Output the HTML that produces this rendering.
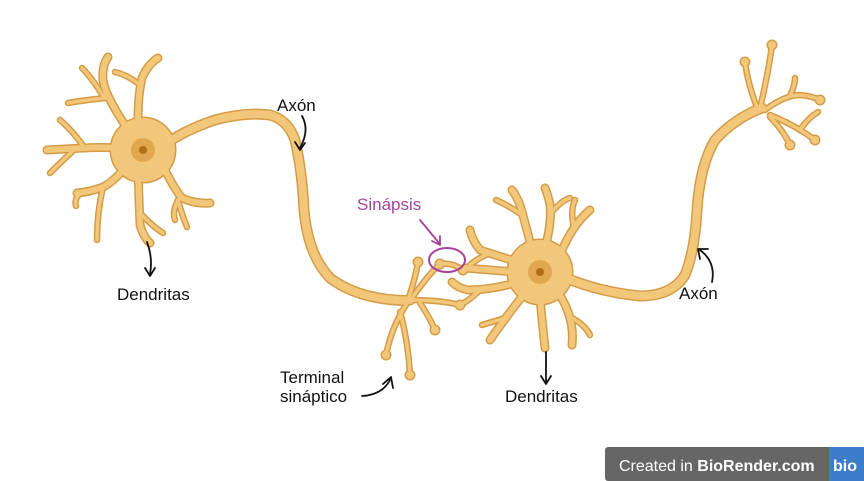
<!DOCTYPE html>
<html><head><meta charset="utf-8"><style>
html,body{margin:0;padding:0;background:#fff;width:864px;height:481px;overflow:hidden}
svg{position:absolute;left:0;top:0}
path,line{fill:none;stroke-linecap:round;stroke-linejoin:round}
path.a{stroke-width:calc(8px + var(--e))}
path.d{stroke-width:calc(6px + var(--e))}
path.b{stroke-width:calc(3.5px + var(--e))}
circle.k{r:4px;stroke-width:var(--e)}
circle.s{stroke-width:var(--e)}
.t{font-family:"Liberation Sans",sans-serif;font-size:17px;fill:#111}
</style></head><body>
<svg width="864" height="481" viewBox="0 0 864 481">
<defs>
<g id="n">
<path class="d" d="M125,125 Q105,95 103,80 Q102,65 108,57"/>
<path class="b" d="M106,98 Q85,100 68,103"/>
<path class="b" d="M103,96 Q92,78 82,68"/>
<path class="d" d="M138,120 Q138,95 142,78 Q148,64 158,58"/>
<path class="b" d="M140,85 Q128,75 115,72"/>
<path class="d" d="M120,148 Q100,147 83,148 Q65,149 47,150"/>
<path class="b" d="M84,147 Q72,130 60,120"/>
<path class="b" d="M74,150 Q60,163 50,173"/>
<path class="d" d="M125,168 Q113,182 103,187 Q90,192 77,193"/>
<path class="b" d="M103,187 Q97,212 97,240"/>
<path class="b" d="M80,193 Q74,200 76,206"/>
<path class="d" d="M138,172 Q139,200 140,225 Q144,238 150,243"/>
<path class="b" d="M140,213 Q152,226 163,233"/>
<path class="d" d="M165,170 Q175,190 182,198 Q195,204 210,203"/>
<path class="b" d="M178,200 Q182,215 187,227"/>
<path class="b" d="M178,200 Q172,212 175,220"/>
<path class="a" d="M168,142 Q190,128 215,120 Q245,112 270,115 Q288,120 295,140 Q302,170 304,210 Q308,255 330,278 Q355,297 395,300 Q405,301 410,300"/>
<path class="b" d="M408,300 Q415,280 418,262"/>
<path class="b" d="M412,298 Q428,275 440,264"/>
<path class="b" d="M440,264 Q452,262 463,270"/>
<path class="b" d="M412,300 Q440,300 460,305"/>
<path class="b" d="M420,303 Q430,318 435,330"/>
<path class="b" d="M408,302 Q392,325 386,355"/>
<path class="b" d="M400,312 Q408,340 410,375"/>
<path class="d" d="M532,250 Q525,222 520,205 Q516,195 512,190"/>
<path class="b" d="M522,215 Q508,205 496,200"/>
<path class="d" d="M545,248 Q552,222 550,205 Q548,195 545,188"/>
<path class="b" d="M552,212 Q562,200 570,198"/>
<path class="d" d="M560,255 Q572,225 590,210"/>
<path class="b" d="M574,228 Q570,210 575,200"/>
<path class="d" d="M518,262 Q495,255 480,250 Q472,240 470,230"/>
<path class="b" d="M490,253 Q478,258 470,265"/>
<path class="d" d="M515,272 Q490,270 465,268"/>
<path class="d" d="M515,283 Q490,290 468,290 Q458,288 452,282"/>
<path class="b" d="M480,290 Q470,300 460,305"/>
<path class="d" d="M525,293 Q505,318 490,340"/>
<path class="b" d="M505,318 Q492,322 482,325"/>
<path class="d" d="M540,298 Q542,320 545,348"/>
<path class="d" d="M558,292 Q575,318 572,345"/>
<path class="b" d="M572,318 Q585,325 590,335"/>
<path class="a" d="M566,278 Q600,292 640,296 Q672,296 685,275 Q695,250 697,210 Q700,165 715,140 Q735,118 762,108"/>
<path class="b" d="M760,108 Q768,75 772,45"/>
<path class="b" d="M758,110 Q748,85 745,62"/>
<path class="b" d="M765,110 Q785,95 800,95 Q812,96 820,100"/>
<path class="b" d="M790,96 Q795,85 795,78"/>
<path class="b" d="M770,115 Q795,125 815,140"/>
<path class="b" d="M770,117 Q783,130 790,145"/>
<path class="b" d="M800,130 Q808,118 818,112"/>
<circle class="k" cx="418" cy="262"/><circle class="k" cx="440" cy="264"/>
<circle class="k" cx="463" cy="270"/><circle class="k" cx="460" cy="305"/>
<circle class="k" cx="435" cy="330"/><circle class="k" cx="386" cy="355"/>
<circle class="k" cx="410" cy="375"/>
<circle class="k" cx="772" cy="45"/><circle class="k" cx="745" cy="62"/>
<circle class="k" cx="820" cy="100"/><circle class="k" cx="815" cy="140"/>
<circle class="k" cx="790" cy="145"/>
<circle class="s" cx="143" cy="150" r="32"/>
<circle class="s" cx="540" cy="272" r="32"/>
</g>
</defs>
<use href="#n" style="--e:3px" stroke="#d59c48" fill="#d59c48"/>
<use href="#n" style="--e:0px" stroke="#f2c77a" fill="#f2c77a"/>
<circle cx="143" cy="150" r="12" fill="#e0a650"/><circle cx="143" cy="150" r="4" fill="#b06f1a"/>
<circle cx="540" cy="272" r="12" fill="#e0a650"/><circle cx="540" cy="272" r="4" fill="#b06f1a"/>
<ellipse cx="447" cy="260" rx="18" ry="12" fill="none" stroke="#a8429a" stroke-width="2"/>
<g fill="none" stroke="#111" stroke-width="1.8" stroke-linecap="round">
<path d="M302,116 Q310,130 300,148"/><path d="M295,142 L300,150 L305,143"/>
<path d="M147,242 Q153,258 150,274"/><path d="M145,268 L150,276 L155,268"/>
<path d="M362,396 Q382,395 390,380"/><path d="M383,384 L391,377 L393,388"/>
<path d="M546,352 L546,383"/><path d="M541,376 L546,384 L551,376"/>
<path d="M712,282 Q716,262 700,250"/><path d="M700,259 L698,249 L708,249"/>
</g>
<g fill="none" stroke="#a8429a" stroke-width="1.8" stroke-linecap="round">
<path d="M420,220 Q430,232 439,243"/><path d="M432,241 L440,245 L440,236"/>
</g>
<text class="t" x="277" y="111">Axón</text>
<text class="t" x="117" y="300">Dendritas</text>
<text class="t" x="357" y="210" style="fill:#a8429a">Sinápsis</text>
<text class="t" x="280" y="383">Terminal</text>
<text class="t" x="280" y="402">sináptico</text>
<text class="t" x="505" y="402">Dendritas</text>
<text class="t" x="679" y="299">Axón</text>
<rect x="605" y="447" width="259" height="34" rx="3" fill="#666"/>
<rect x="829" y="447" width="35" height="34" fill="#3d7cc9"/>
<text x="619" y="471" style="font-family:'Liberation Sans',sans-serif;font-size:16px;fill:#fff">Created in <tspan font-weight="bold">BioRender.com</tspan></text>
<text x="833" y="471" style="font-family:'Liberation Sans',sans-serif;font-size:16px;font-weight:bold;fill:#fff">bio</text>
</svg>
</body></html>
